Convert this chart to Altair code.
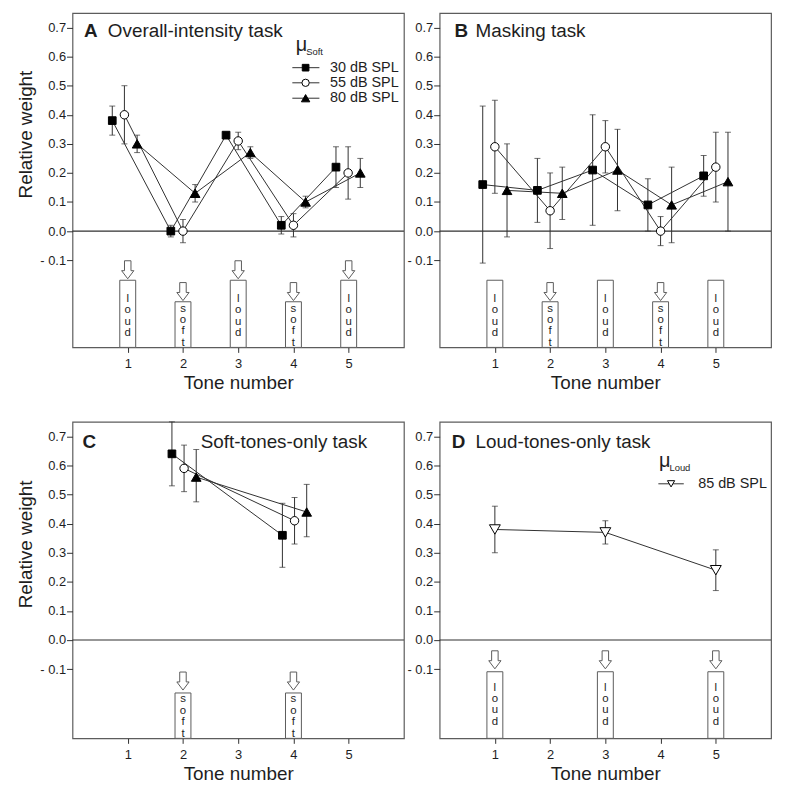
import altair as alt
import pandas as pd

FONT = "Liberation Sans"
INK = "#1e1e1e"
LINE = "#303030"
FRAME = "#5c5c5c"

TONES = [1, 2, 3, 4, 5]
Y_TICKS = [-0.1, 0.0, 0.1, 0.2, 0.3, 0.4, 0.5, 0.6, 0.7]
SOFT_LEVELS = ["30 dB SPL", "55 dB SPL", "80 dB SPL"]
LOUD_LEVELS = ["85 dB SPL"]

# ---- Panel A: overall-intensity task (x = plotted position, w = weight, lo/hi = error bar)
A30_X = [0.72, 1.78, 2.78, 3.78, 4.77]
A30_W = [0.38, 0.00, 0.33, 0.02, 0.22]
A30_LO = [0.33, -0.02, 0.33, -0.01, 0.15]
A30_HI = [0.43, 0.02, 0.33, 0.05, 0.29]
A55_X = [0.94, 2.00, 3.00, 4.00, 4.99]
A55_W = [0.40, 0.00, 0.31, 0.02, 0.20]
A55_LO = [0.30, -0.04, 0.28, -0.02, 0.11]
A55_HI = [0.50, 0.04, 0.34, 0.06, 0.29]
A80_X = [1.17, 2.22, 3.22, 4.22, 5.21]
A80_W = [0.30, 0.13, 0.27, 0.10, 0.20]
A80_LO = [0.27, 0.10, 0.25, 0.08, 0.15]
A80_HI = [0.33, 0.16, 0.29, 0.12, 0.25]

# ---- Panel B: masking task
B30_X = [0.78, 1.77, 2.77, 3.77, 4.78]
B30_W = [0.16, 0.14, 0.21, 0.09, 0.19]
B30_LO = [-0.11, 0.03, 0.02, 0.00, 0.12]
B30_HI = [0.43, 0.25, 0.40, 0.18, 0.26]
B55_X = [1.00, 2.00, 3.00, 4.00, 5.00]
B55_W = [0.29, 0.07, 0.29, 0.00, 0.22]
B55_LO = [0.13, -0.06, 0.20, -0.05, 0.10]
B55_HI = [0.45, 0.20, 0.38, 0.05, 0.34]
B80_X = [1.22, 2.22, 3.22, 4.20, 5.22]
B80_W = [0.14, 0.13, 0.21, 0.09, 0.17]
B80_LO = [-0.02, 0.04, 0.07, -0.04, 0.00]
B80_HI = [0.30, 0.22, 0.35, 0.22, 0.34]

# ---- Panel C: soft-tones-only task
C30_X = [1.80, 3.80]
C30_W = [0.64, 0.36]
C30_LO = [0.53, 0.25]
C30_HI = [0.75, 0.47]
C55_X = [2.02, 4.02]
C55_W = [0.59, 0.41]
C55_LO = [0.51, 0.33]
C55_HI = [0.67, 0.49]
C80_X = [2.24, 4.24]
C80_W = [0.56, 0.44]
C80_LO = [0.475, 0.355]
C80_HI = [0.655, 0.535]

# ---- Panel D: loud-tones-only task
D85_X = [1.0, 3.0, 5.0]
D85_W = [0.38, 0.37, 0.24]
D85_LO = [0.30, 0.33, 0.17]
D85_HI = [0.46, 0.41, 0.31]

# tone boxes ("loud" / "soft") and arrows marking the attended tones
A_LOUD, A_SOFT, A_ARROWS = [1, 3, 5], [2, 4], [1, 2, 3, 4, 5]
B_LOUD, B_SOFT, B_ARROWS = [1, 3, 5], [2, 4], [2, 4]
C_LOUD, C_SOFT, C_ARROWS = [], [2, 4], [2, 4]
D_LOUD, D_SOFT, D_ARROWS = [1, 3, 5], [], [1, 3, 5]

ARROW = "M-0.36,-1 L0.36,-1 L0.36,0.1 L0.68,0.1 L0,1 L-0.68,0.1 L-0.36,0.1 Z"


def xenc(field="x"):
    return alt.X(f"{field}:Q",
                 scale=alt.Scale(domain=[0, 6], nice=False, zero=False),
                 axis=alt.Axis(values=TONES, format="d", title="Tone number",
                               tickSize=5, labelPadding=5, titlePadding=3,
                               labelFontSize=13, titleFontSize=19,
                               domain=False, grid=False))


def make_yenc(ymin, ytitle, title_y):
    def yenc(field):
        kw = dict(values=Y_TICKS, tickSize=6, labelPadding=1, labelFontSize=13,
                  labelExpr="datum.value < -0.01 ? '- ' + format(-datum.value, '.1f') : format(datum.value, '.1f')",
                  domain=False, grid=False)
        if ytitle:
            kw.update(title=ytitle, titleFontSize=19, titleX=-47, titleY=title_y,
                      titleAngle=270, titleAlign="center", titleBaseline="middle")
        else:
            kw.update(title=None)
        return alt.Y(f"{field}:Q",
                     scale=alt.Scale(domain=[ymin, 0.75], nice=False, zero=False),
                     axis=alt.Axis(**kw))
    return yenc


def series_df(xs, ws, los, his):
    return pd.DataFrame({"x": xs, "w": ws, "lo": los, "hi": his})


def panel(series, ymin, height, ytitle, title_y, loud, soft, arrows, geo,
          letter, name, legend):
    yenc = make_yenc(ymin, ytitle, title_y)
    layers = []
    # zero line
    layers.append(alt.Chart(pd.DataFrame({"y": [0.0]})).mark_rule(
        color=LINE, strokeWidth=1.2).encode(y=yenc("y")))
    # boxes
    rows = []
    for t in loud:
        rows.append({"x": t - 0.144, "x2": t + 0.144, "y": geo["loud_top"], "y2": ymin,
                     "tx": t, "ty": geo["loud_text"], "word": "l\no\nu\nd"})
    for t in soft:
        rows.append({"x": t - 0.144, "x2": t + 0.144, "y": geo["soft_top"], "y2": ymin,
                     "tx": t, "ty": geo["soft_text"], "word": "s\no\nf\nt"})
    boxes = pd.DataFrame(rows)
    layers.append(alt.Chart(boxes).mark_rect(fill="white", stroke=FRAME, strokeWidth=1).encode(
        x=xenc("x"), x2="x2:Q", y=yenc("y"), y2="y2:Q"))
    layers.append(alt.Chart(boxes).mark_text(
        font=FONT, fontSize=11.5, lineBreak="\n", lineHeight=11.5, baseline="top",
        align="center", color=INK).encode(x=xenc("tx"), y=yenc("ty"), text="word:N"))
    # arrows
    arr = pd.DataFrame({"x": arrows,
                        "y": [geo["loud_arrow"] if t in loud else geo["soft_arrow"] for t in arrows]})
    layers.append(alt.Chart(arr).mark_point(
        shape=ARROW, size=330, filled=True, fill="white", stroke=FRAME, strokeWidth=1,
        opacity=1).encode(x=xenc("x"), y=yenc("y")))
    # data series
    for df, shape, fill, size in series:
        layers.append(alt.Chart(df).mark_rule(color=LINE, strokeWidth=1).encode(
            x=xenc("x"), y=yenc("lo"), y2="hi:Q"))
        for f in ["lo", "hi"]:
            layers.append(alt.Chart(df).mark_tick(
                orient="horizontal", size=6, thickness=1, color=LINE).encode(
                x=xenc("x"), y=yenc(f)))
        layers.append(alt.Chart(df).mark_line(color=LINE, strokeWidth=1).encode(
            x=xenc("x"), y=yenc("w")))
    for df, shape, fill, size in series:
        layers.append(alt.Chart(df).mark_point(
            shape=shape, size=size, filled=True, fill=fill, stroke="black",
            strokeWidth=1, opacity=1).encode(x=xenc("x"), y=yenc("w")))
    # panel letter and name
    lab = pd.DataFrame({"x": [letter[0]], "y": [letter[1]], "t": [letter[2]]})
    layers.append(alt.Chart(lab).mark_text(
        font=FONT, fontSize=19, fontWeight="bold", align="left", baseline="alphabetic",
        color=INK).encode(x=xenc("x"), y=yenc("y"), text="t:N"))
    nm = pd.DataFrame({"x": [name[0]], "y": [name[1]], "t": [name[2]]})
    layers.append(alt.Chart(nm).mark_text(
        font=FONT, fontSize=19, align="left", baseline="alphabetic",
        color=INK).encode(x=xenc("x"), y=yenc("y"), text="t:N"))
    # legend drawn inside the plot
    if legend:
        mu = pd.DataFrame({"x": [legend["mu_x"]], "y": [legend["mu_y"]], "t": ["μ"]})
        layers.append(alt.Chart(mu).mark_text(
            font=FONT, fontSize=20, align="left", baseline="alphabetic", color=INK).encode(
            x=xenc("x"), y=yenc("y"), text="t:N"))
        sub = pd.DataFrame({"x": [legend["sub_x"]], "y": [legend["sub_y"]], "t": [legend["sub"]]})
        layers.append(alt.Chart(sub).mark_text(
            font=FONT, fontSize=9.5, align="left", baseline="alphabetic", color=INK).encode(
            x=xenc("x"), y=yenc("y"), text="t:N"))
        for (lvl, shape, fill, size), yy in zip(legend["items"], legend["rows"]):
            seg = pd.DataFrame({"x": [legend["x0"]], "x2": [legend["x1"]], "y": [yy]})
            layers.append(alt.Chart(seg).mark_rule(color=LINE, strokeWidth=1).encode(
                x=xenc("x"), x2="x2:Q", y=yenc("y")))
            pt = pd.DataFrame({"x": [legend["xm"]], "y": [yy]})
            layers.append(alt.Chart(pt).mark_point(
                shape=shape, size=size * 0.75, filled=True, fill=fill, stroke="black",
                strokeWidth=1, opacity=1).encode(x=xenc("x"), y=yenc("y")))
            tx = pd.DataFrame({"x": [legend["xt"]], "y": [yy], "t": [lvl]})
            layers.append(alt.Chart(tx).mark_text(
                font=FONT, fontSize=14.5, align="left", baseline="middle", color=INK).encode(
                x=xenc("x"), y=yenc("y"), text="t:N"))
    return alt.layer(*layers).properties(width=334, height=height)


SQ = ("square", "black", 60)
CI = ("circle", "white", 72)
TR = ("triangle-up", "black", 95)
TD = ("triangle-down", "white", 120)

A_series = [(series_df(A30_X, A30_W, A30_LO, A30_HI),) + SQ,
            (series_df(A55_X, A55_W, A55_LO, A55_HI),) + CI,
            (series_df(A80_X, A80_W, A80_LO, A80_HI),) + TR]
B_series = [(series_df(B30_X, B30_W, B30_LO, B30_HI),) + SQ,
            (series_df(B55_X, B55_W, B55_LO, B55_HI),) + CI,
            (series_df(B80_X, B80_W, B80_LO, B80_HI),) + TR]
C_series = [(series_df(C30_X, C30_W, C30_LO, C30_HI),) + SQ,
            (series_df(C55_X, C55_W, C55_LO, C55_HI),) + CI,
            (series_df(C80_X, C80_W, C80_LO, C80_HI),) + TR]
D_series = [(series_df(D85_X, D85_W, D85_LO, D85_HI),) + TD]

GEO_TOP = {"loud_top": -0.169, "soft_top": -0.243, "loud_text": -0.213,
           "soft_text": -0.246, "loud_arrow": -0.133, "soft_arrow": -0.208}
GEO_C = {"loud_top": -0.109, "soft_top": -0.182, "loud_text": -0.143,
         "soft_text": -0.184, "loud_arrow": -0.068, "soft_arrow": -0.141}

legA = {"mu_x": 4.04, "mu_y": 0.621, "sub_x": 4.23, "sub_y": 0.604, "sub": "Soft",
        "x0": 3.98, "x1": 4.47, "xm": 4.22, "xt": 4.66,
        "rows": [0.562, 0.510, 0.457],
        "items": [(SOFT_LEVELS[0],) + SQ, (SOFT_LEVELS[1],) + CI, (SOFT_LEVELS[2],) + TR]}
legD = {"mu_x": 3.97, "mu_y": 0.594, "sub_x": 4.16, "sub_y": 0.580, "sub": "Loud",
        "x0": 3.96, "x1": 4.42, "xm": 4.19, "xt": 4.68,
        "rows": [0.537],
        "items": [(LOUD_LEVELS[0], "triangle-down", "white", 70)]}

pA = panel(A_series, -0.40, 337, "Relative weight", 122, A_LOUD, A_SOFT, A_ARROWS, GEO_TOP,
           (0.21, 0.667, "A"), (0.64, 0.667, "Overall-intensity task"), legA)
pB = panel(B_series, -0.40, 337, None, 0, B_LOUD, B_SOFT, B_ARROWS, GEO_TOP,
           (0.27, 0.667, "B"), (0.65, 0.667, "Masking task"), None)
pC = panel(C_series, -0.338, 319, "Relative weight", 123, C_LOUD, C_SOFT, C_ARROWS, GEO_C,
           (0.18, 0.66, "C"), (2.32, 0.66, "Soft-tones-only task"), None)
pD = panel(D_series, -0.338, 319, None, 0, D_LOUD, D_SOFT, D_ARROWS, GEO_C,
           (0.22, 0.66, "D"), (0.65, 0.66, "Loud-tones-only task"), legD)

chart = alt.concat(pA, pB, pC, pD, columns=2, spacing={"row": 75, "column": 36},
                   bounds="flush").properties(
    padding={"left": 8, "top": 1, "right": 5, "bottom": 5}
).configure_view(stroke=FRAME, strokeWidth=1.2).configure_axis(
    labelFont=FONT, titleFont=FONT, labelColor=INK, titleColor=INK,
    tickColor=LINE, titleFontWeight="normal")

chart.save("out.html", embed_options={"renderer": "svg", "actions": False})
